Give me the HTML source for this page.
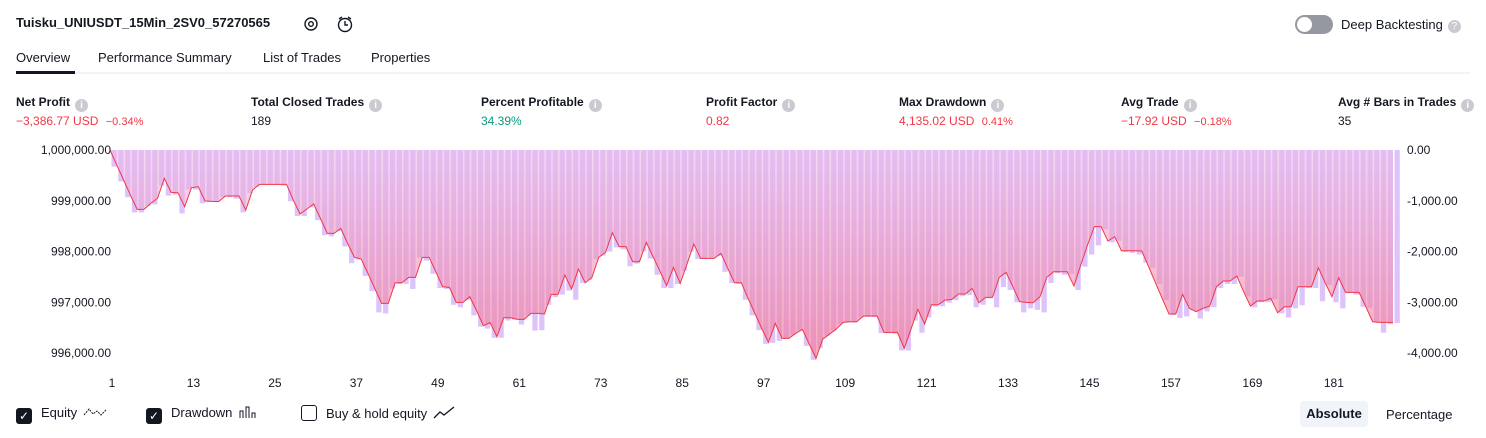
<!DOCTYPE html>
<html><head><meta charset="utf-8">
<style>
body{margin:0;width:1486px;height:438px;background:#fff;font-family:"Liberation Sans",sans-serif;color:#131722;overflow:hidden;position:relative}
.abs{position:absolute;white-space:nowrap}
.lbl{font-size:12px;font-weight:bold;color:#131722}
.val{font-size:12px}
.red{color:#f23645}.grn{color:#089981}
.q{display:inline-block;width:13px;height:13px;border-radius:50%;background:#c9cbd1;color:#fff;font-size:10px;text-align:center;line-height:13px;margin-left:5px;vertical-align:-2px}
.tab{font-size:13px;color:#131722}
.cb{display:inline-block;width:16px;height:16px;border-radius:3px;vertical-align:-3px;box-sizing:border-box}
</style></head><body>
<div class="abs" style="left:16px;top:15px;font-size:13px;font-weight:bold">Tuisku_UNIUSDT_15Min_2SV0_57270565</div>
<svg class="abs" style="left:302px;top:15px" width="18" height="18"><circle cx="9" cy="9" r="6" fill="none" stroke="#131722" stroke-width="1.4"/><circle cx="9" cy="9" r="2.3" fill="none" stroke="#131722" stroke-width="1.4"/></svg>
<svg class="abs" style="left:335px;top:14px" width="20" height="20"><circle cx="10" cy="11" r="6.5" fill="none" stroke="#131722" stroke-width="1.4"/><path d="M10 7v4h3M4 5l3-2M16 5l-3-2" stroke="#131722" stroke-width="1.4" fill="none"/></svg>
<div class="abs" style="left:1295px;top:15px;width:38px;height:19px;border-radius:10px;background:#9598a1"><div style="position:absolute;left:2px;top:2px;width:15px;height:15px;border-radius:50%;background:#fff"></div></div>
<div class="abs" style="left:1341px;top:17px;font-size:13px">Deep Backtesting<span class="q" style="vertical-align:0">?</span></div>
<div class="abs tab" style="left:16px;top:50px">Overview</div>
<div class="abs tab" style="left:98px;top:50px">Performance Summary</div>
<div class="abs tab" style="left:263px;top:50px">List of Trades</div>
<div class="abs tab" style="left:371px;top:50px">Properties</div>
<div class="abs" style="left:16px;top:72px;width:1454px;height:2px;background:#f0f3fa"></div>
<div class="abs" style="left:16px;top:71px;width:59px;height:3px;background:#131722"></div>

<div class="abs lbl" style="left:16px;top:95px">Net Profit<span class="q">i</span></div>
<div class="abs val red" style="left:16px;top:114px">−3,386.77 USD <span style="font-size:11px;margin-left:4px">−0.34%</span></div>
<div class="abs lbl" style="left:251px;top:95px">Total Closed Trades<span class="q">i</span></div>
<div class="abs val" style="left:251px;top:114px">189</div>
<div class="abs lbl" style="left:481px;top:95px">Percent Profitable<span class="q">i</span></div>
<div class="abs val grn" style="left:481px;top:114px">34.39%</div>
<div class="abs lbl" style="left:706px;top:95px">Profit Factor<span class="q">i</span></div>
<div class="abs val red" style="left:706px;top:114px">0.82</div>
<div class="abs lbl" style="left:899px;top:95px">Max Drawdown<span class="q">i</span></div>
<div class="abs val red" style="left:899px;top:114px">4,135.02 USD <span style="font-size:11px;margin-left:4px">0.41%</span></div>
<div class="abs lbl" style="left:1121px;top:95px">Avg Trade<span class="q">i</span></div>
<div class="abs val red" style="left:1121px;top:114px">−17.92 USD <span style="font-size:11px;margin-left:4px">−0.18%</span></div>
<div class="abs lbl" style="left:1338px;top:95px">Avg # Bars in Trades<span class="q">i</span></div>
<div class="abs val" style="left:1338px;top:114px">35</div>

<svg id="chart" class="abs" style="left:0;top:0" width="1486" height="438">
<defs><linearGradient id="g" x1="0" y1="0" x2="0" y2="1"><stop offset="0" stop-color="rgb(234,185,235)" stop-opacity="0.55"/><stop offset="1" stop-color="rgb(242,110,140)" stop-opacity="0.6"/></linearGradient></defs>
</svg>

<div class="abs" style="left:16px;top:405px;font-size:13px"><span class="cb" style="background:#131722;color:#fff;font-size:12px;text-align:center;line-height:16px">✓</span><span style="margin-left:9px">Equity</span><svg width="24" height="14" style="vertical-align:-2px;margin-left:6px"><path d="M1 10l5-6 4 5 4-3 4 4 5-5" fill="none" stroke="#131722" stroke-dasharray="2 1"/></svg></div>
<div class="abs" style="left:146px;top:405px;font-size:13px"><span class="cb" style="background:#131722;color:#fff;font-size:12px;text-align:center;line-height:16px">✓</span><span style="margin-left:9px">Drawdown</span><svg width="20" height="14" style="vertical-align:-2px;margin-left:6px"><path d="M2 13V6h3v7M8 13V2h3v11M14 13V8h3v5" fill="none" stroke="#131722"/></svg></div>
<div class="abs" style="left:301px;top:405px;font-size:13px"><span class="cb" style="border:1px solid #131722"></span><span style="margin-left:9px">Buy &amp; hold equity</span><svg width="24" height="14" style="vertical-align:-2px;margin-left:6px"><path d="M1 12l6-6 4 3 10-8" fill="none" stroke="#131722" stroke-width="1.3"/></svg></div>
<div class="abs" style="left:1300px;top:401px;width:68px;height:26px;border-radius:4px;background:#f0f3fa;font-size:13px;font-weight:bold;text-align:center;line-height:26px">Absolute</div>
<div class="abs" style="left:1386px;top:407px;font-size:13px">Percentage</div>

<script>
const equity=[0,-296,-591,-887,-1169,-1169,-1051,-953,-558,-834,-841,-1117,-742,-723,-1005,-1012,-1018,-907,-907,-907,-1183,-788,-677,-677,-677,-677,-677,-986,-1261,-1163,-1064,-1347,-1643,-1643,-1544,-1840,-2115,-2148,-2431,-2727,-3022,-3022,-2615,-2615,-2510,-2510,-2115,-2115,-2398,-2694,-2707,-3002,-3002,-2891,-3167,-3462,-3403,-3679,-3305,-3305,-3338,-3338,-3219,-3219,-3232,-2845,-2845,-2464,-2740,-2345,-2615,-2510,-2115,-2017,-1629,-1905,-1905,-2201,-2201,-1820,-2102,-2385,-2674,-2313,-2628,-2247,-1853,-2135,-2135,-2135,-2037,-2332,-2615,-2615,-2924,-3219,-3515,-3791,-3416,-3712,-3712,-3614,-3535,-3824,-4106,-3725,-3627,-3528,-3397,-3384,-3384,-3272,-3272,-3272,-3594,-3594,-3594,-3909,-3528,-3140,-3430,-3048,-3048,-2957,-2943,-2838,-2838,-2727,-3009,-2904,-2904,-2510,-2411,-2694,-2989,-3002,-3009,-2891,-2510,-2398,-2398,-2398,-2681,-2267,-1872,-1511,-1511,-1794,-1708,-1984,-1984,-1984,-1991,-2300,-2615,-2924,-3232,-3232,-2845,-3121,-3186,-3121,-3075,-2694,-2582,-2582,-2483,-2792,-3075,-2976,-2976,-2924,-3206,-3088,-3088,-2694,-2694,-2694,-2319,-2615,-2891,-2516,-2805,-2805,-2805,-3088,-3384,-3397,-3397,-3397];
const drawdown=[-330,-620,-930,-1230,-1230,-1100,-1070,-700,-900,-880,-1250,-780,-780,-1050,-1020,-1020,-930,-930,-960,-1230,-850,-720,-677,-677,-677,-700,-1010,-1300,-1300,-1130,-1380,-1680,-1700,-1600,-1900,-2230,-2160,-2480,-2780,-3200,-3220,-2730,-2640,-2640,-2740,-2120,-2180,-2440,-2720,-2740,-3050,-3100,-2960,-3260,-3480,-3520,-3700,-3700,-3360,-3340,-3440,-3260,-3560,-3550,-3050,-2900,-2850,-2770,-2950,-2620,-2560,-2150,-2080,-2000,-1920,-1960,-2290,-2240,-2000,-2140,-2460,-2720,-2720,-2640,-2380,-2000,-2150,-2150,-2140,-2090,-2400,-2620,-2640,-2950,-3260,-3550,-3820,-3800,-3760,-3720,-3640,-3560,-3860,-4135,-3900,-3660,-3560,-3430,-3400,-3400,-3300,-3290,-3290,-3610,-3610,-3620,-3950,-3950,-3360,-3600,-3300,-3090,-3080,-3010,-2960,-2880,-2860,-3100,-3050,-2920,-3100,-2700,-2760,-3000,-3200,-3120,-3150,-3200,-2620,-2430,-2460,-2440,-2760,-2300,-2060,-1880,-1560,-1820,-1790,-2010,-2030,-2060,-2220,-2320,-2640,-2960,-3250,-3310,-3280,-3160,-3320,-3180,-3100,-2720,-2640,-2640,-2500,-2880,-3100,-3000,-3000,-2940,-3220,-3300,-3120,-3060,-2720,-2720,-2980,-2660,-3000,-3120,-2820,-2850,-3090,-3110,-3400,-3600,-3430,-3410];
const leftTicks=["1,000,000.00","999,000.00","998,000.00","997,000.00","996,000.00"];
const rightTicks=["0.00","-1,000.00","-2,000.00","-3,000.00","-4,000.00"];
const tickValues=[0,-1000,-2000,-3000,-4000];
const xLabels=[1,13,25,37,49,61,73,85,97,109,121,133,145,157,169,181];

const svg=document.getElementById('chart');
const NS='http://www.w3.org/2000/svg';
const X0=110, X1=1393, Y0=150, PPU=50.75/1000;
const n=equity.length-1;
const step=(X1-X0)/n;
const xs=i=>X0+i*step;
const ys=v=>Y0-v*PPU;
function mk(tag,attrs){const e=document.createElementNS(NS,tag);for(const k in attrs)e.setAttribute(k,attrs[k]);svg.appendChild(e);return e;}

drawdown.forEach((d,k)=>{
  const x=xs(k)+1.5;
  const r=mk('rect',{x:x,y:Y0,width:step-1.5,height:Math.max(0,ys(d)-Y0),fill:'#dec3fb'});
  
  
});
let area='M'+xs(0)+','+Y0;
equity.forEach((v,i)=>{area+=' L'+xs(i).toFixed(2)+','+ys(v).toFixed(2);});
area+=' L'+xs(n)+','+Y0+' Z';
const a=mk('path',{d:area,fill:'url(#g)'});


const line=mk('polyline',{points:equity.map((v,i)=>xs(i).toFixed(2)+','+ys(v).toFixed(2)).join(' '),fill:'none',stroke:'#f23645','stroke-width':1});



tickValues.forEach((v,i)=>{
  const l=mk('text',{x:111,y:ys(v)+4,'text-anchor':'end','font-size':12,fill:'#131722','font-family':'Liberation Sans'});
  l.textContent=leftTicks[i];
  
  
  const r=mk('text',{x:1407,y:ys(v)+4,'font-size':12,fill:'#131722','font-family':'Liberation Sans'});
  r.textContent=rightTicks[i];
  
  
});
xLabels.forEach(t=>{
  const e=mk('text',{x:xs(t-1)+2,y:387,'text-anchor':'middle','font-size':12,fill:'#131722','font-family':'Liberation Sans'});
  e.textContent=t;
  
  
});
</script>
</body></html>
